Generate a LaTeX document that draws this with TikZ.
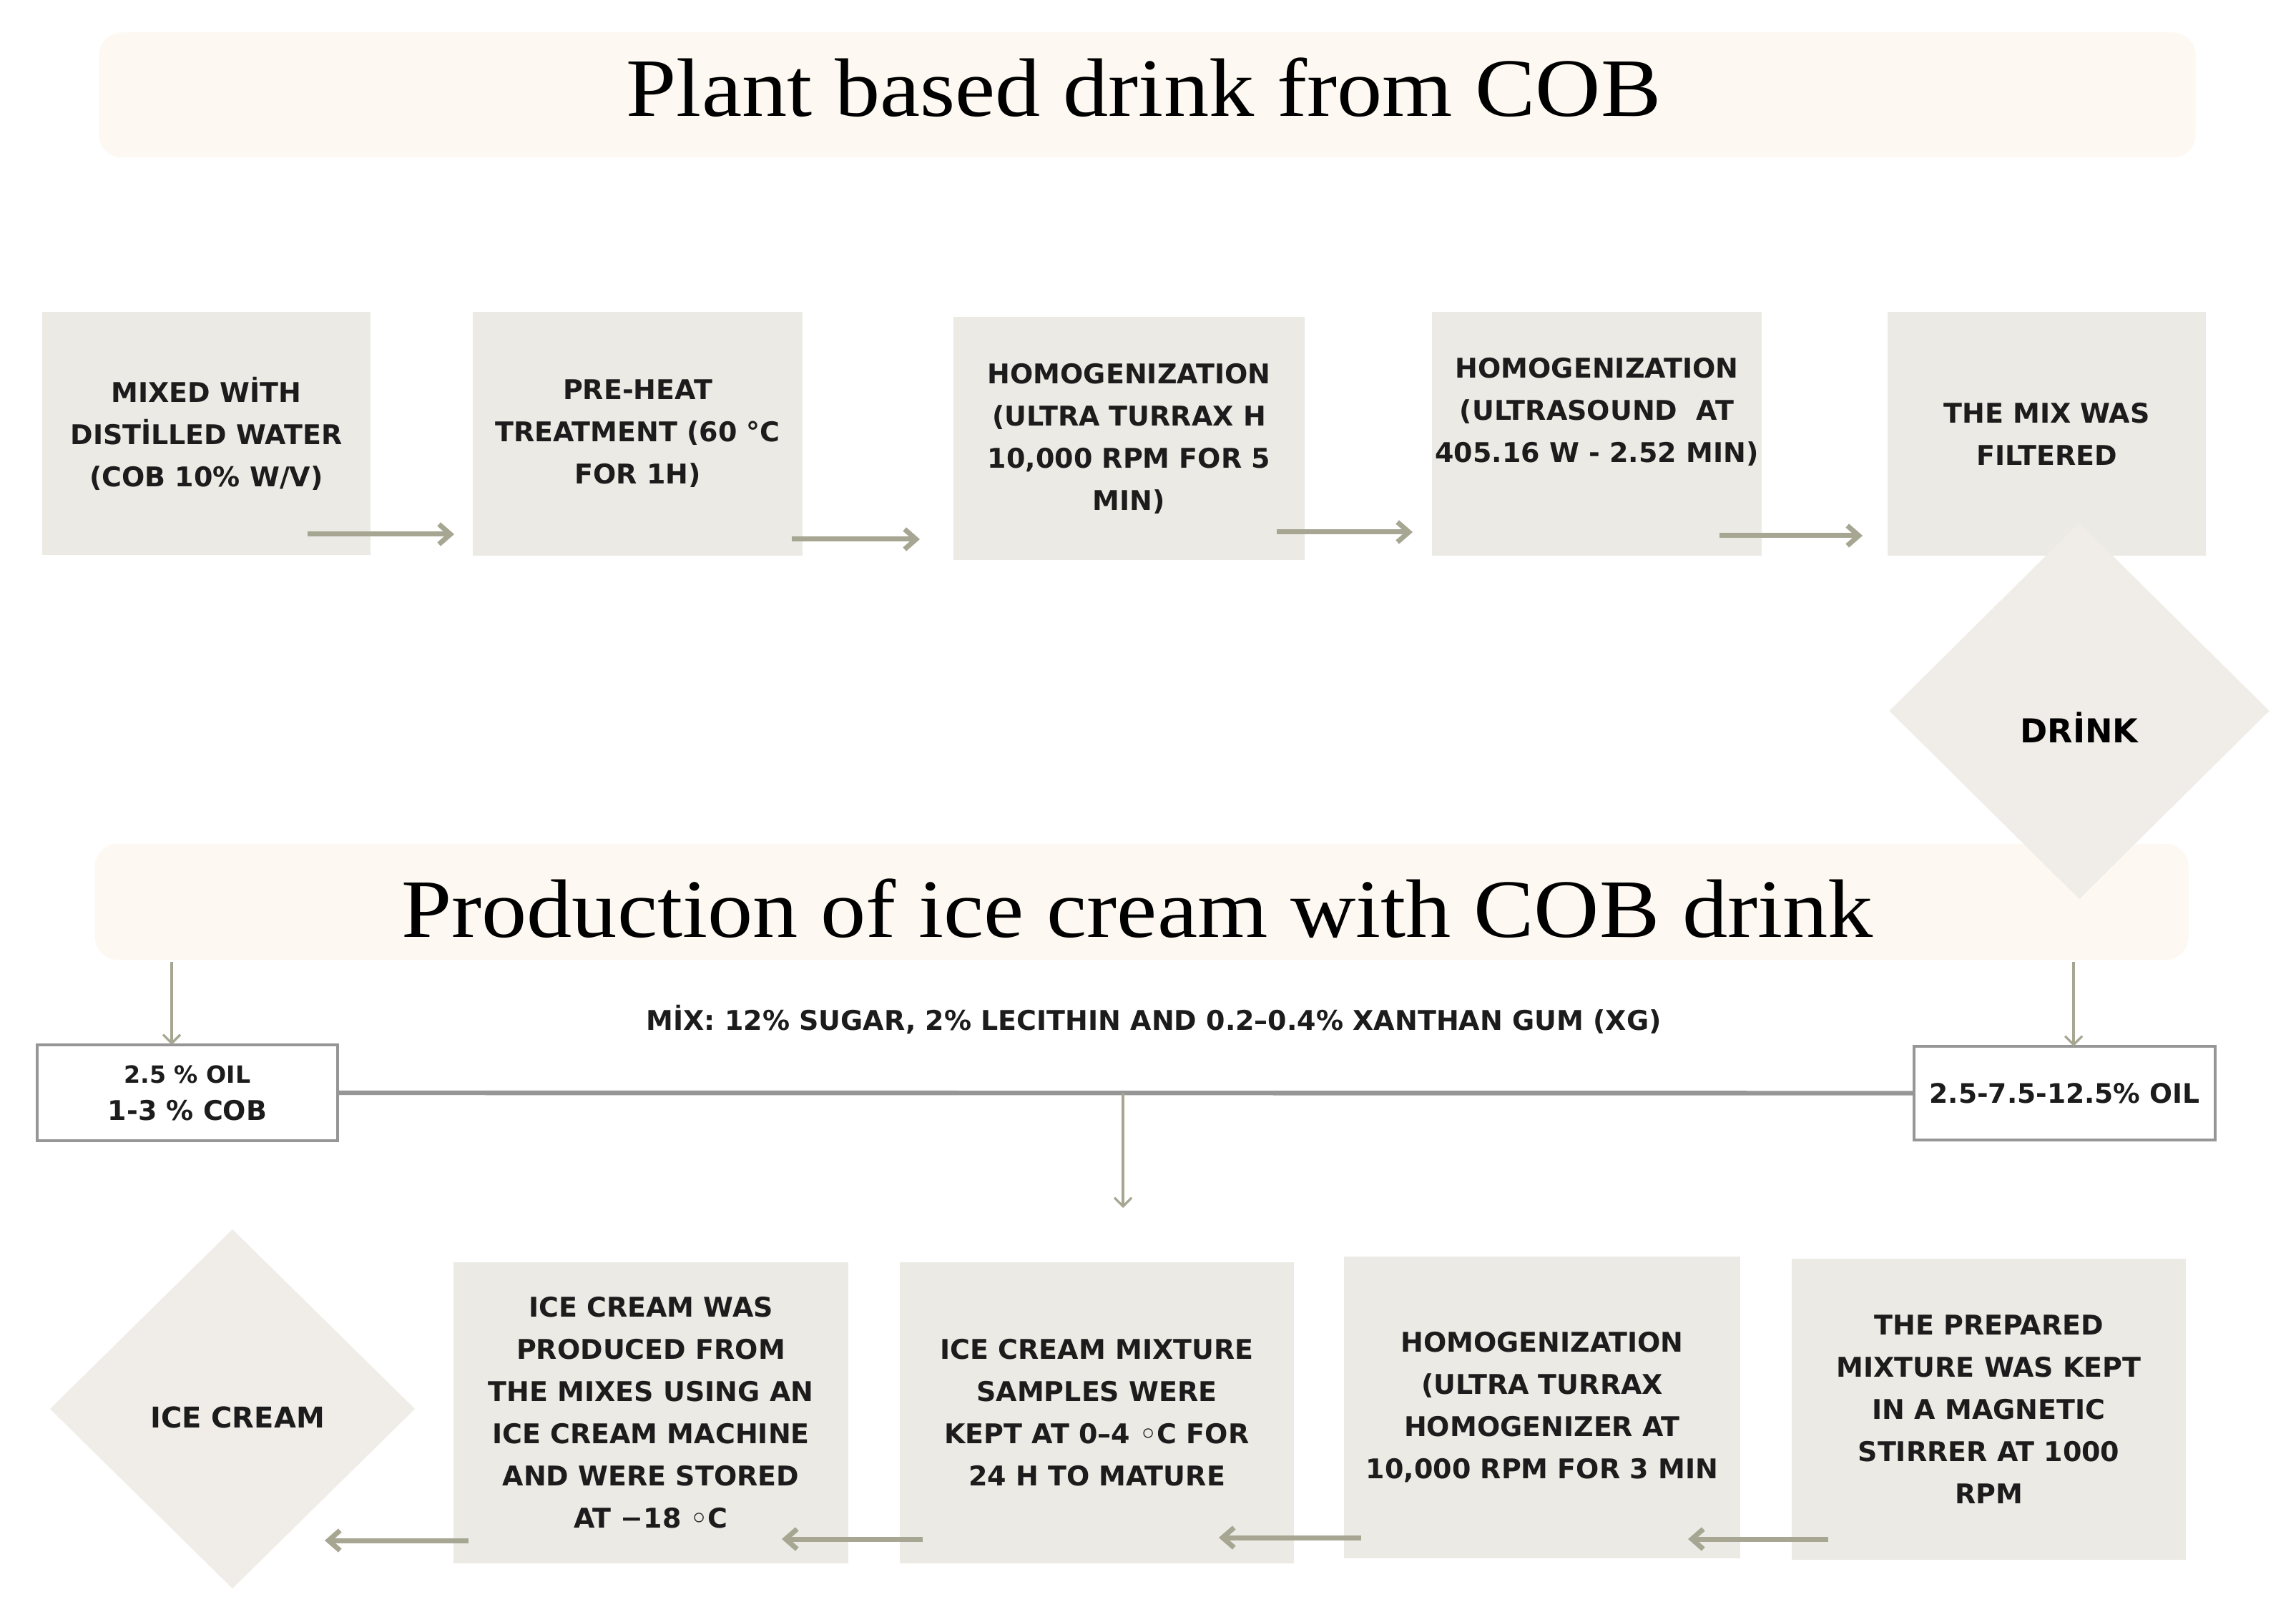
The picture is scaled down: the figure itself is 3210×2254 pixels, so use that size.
\documentclass[tikz,border=0pt]{standalone}
\usepackage{fontspec}
\usetikzlibrary{arrows.meta,shapes.geometric}
\newfontfamily\bxfont{DejaVu Sans}
\newfontfamily\ttlfont[FakeStretch=1.09]{Liberation Serif}
\definecolor{boxfill}{RGB}{236,234,228}
\definecolor{diafill}{RGB}{240,236,231}
\definecolor{banfill}{RGB}{253,248,241}
\definecolor{arrcol}{RGB}{166,166,146}
\definecolor{linecol}{RGB}{150,150,150}
\definecolor{txtcol}{RGB}{28,28,28}
\tikzset{
  sz/.style 2 args={minimum width=#1*0.25pt, minimum height=#2*0.25pt},
  stepbox/.style={fill=boxfill, inner sep=0pt, outer sep=0pt, align=center,
    text=txtcol, font=\bxfont\bfseries\fontsize{9.5pt}{14.75pt}\selectfont},
  boxtext/.style={align=center, inner sep=0pt, text=txtcol,
    font=\bxfont\bfseries\fontsize{9.5pt}{14.75pt}\selectfont},
  banner/.style={fill=banfill, rounded corners=8pt, inner sep=0pt, outer sep=0pt},
  ttl/.style={anchor=base, inner sep=0pt, font=\ttlfont\fontsize{29pt}{34pt}\selectfont},
  enddia/.style={diamond, fill=diafill, inner sep=0pt, outer sep=0pt},
  inbox/.style={draw=linecol, line width=1.2pt, fill=white, inner sep=0pt, outer sep=0pt,
    align=center, text=txtcol, font=\bxfont\bfseries\fontsize{9.5pt}{12pt}\selectfont},
  arrthick/.style={draw=arrcol, line width=1.75pt, -{Straight Barb[length=4pt,width=7pt]}},
  arrthin/.style={draw=arrcol, line width=0.8pt, -{Straight Barb[length=3pt,width=6pt]}},
  hline/.style={draw=linecol, line width=1.6pt},
}
\begin{document}
\begin{tikzpicture}[x=0.25pt,y=-0.25pt]
\useasboundingbox (0,0) rectangle (3210,2254);
\fill[white] (0,0) rectangle (3210,2254);

% banners and titles
\node[banner, sz={2931}{175}] (ban1) at (1604,133) {};
\node[ttl] (ttl1) at (1599,163) {Plant based drink from COB};
\node[banner, sz={2927}{162}] (ban2) at (1596,1261) {};
\node[ttl] (ttl2) at (1590,1310) {Production of ice cream with COB drink};

% top row
\node[stepbox, sz={459}{340}] (b1) at (288.5,606) {MIXED WİTH\\DISTİLLED WATER\\(COB 10\% W/V)};
\node[stepbox, sz={461}{341}] (b2) at (891.5,606.5) {PRE-HEAT\\TREATMENT (60 °C\\FOR 1H)};
\node[stepbox, sz={491}{340}] (b3) at (1578.5,613) {HOMOGENIZATION\\(ULTRA TURRAX H\\10,000 RPM FOR 5\\MIN)};
\node[stepbox, sz={461}{341}] (b4) at (2232.5,606.5) {};
\node[boxtext] (b4t) at (2232.5,576) {HOMOGENIZATION\\(ULTRASOUND\ \ AT\\405.16 W - 2.52 MIN)};
\node[stepbox, sz={445}{341}] (b5) at (2861.5,606.5) {THE MIX WAS\\FILTERED};

% drink diamond
\node[enddia, sz={531}{526}] (drink) at (2907,994) {};
\node[anchor=base, inner sep=0pt, text=black, font=\bxfont\bfseries\fontsize{11.5pt}{13pt}\selectfont] (drinkt) at (2907,1039) {DRİNK};

% top arrows
\coordinate (a1s) at (430,747);  \coordinate (a1e) at (635,747);
\coordinate (a2s) at (1107,754); \coordinate (a2e) at (1286,754);
\coordinate (a3s) at (1785,744); \coordinate (a3e) at (1975,744);
\coordinate (a4s) at (2404,749); \coordinate (a4e) at (2604,749);
\draw[arrthick] (a1s) -- (a1e);
\draw[arrthick] (a2s) -- (a2e);
\draw[arrthick] (a3s) -- (a3e);
\draw[arrthick] (a4s) -- (a4e);

% middle section
\node[inbox, sz={420}{134}] (lbox) at (262,1528) {{\fontsize{8.3pt}{9pt}\selectfont 2.5 \% OIL}\\[1pt]1-3 \% COB};
\node[inbox, sz={421}{131}] (rbox) at (2886.5,1528.5) {\fontsize{9.4pt}{12pt}\selectfont 2.5-7.5-12.5\% OIL};
\node[anchor=base, inner sep=0pt, text=txtcol, font=\bxfont\bfseries\fontsize{9.5pt}{12pt}\selectfont] (mix) at (1613,1440) {MİX: 12\% SUGAR, 2\% LECITHIN AND 0.2–0.4\% XANTHAN GUM (XG)};
\coordinate (dL) at (240,1345);
\coordinate (dR) at (2899,1345);
\draw[arrthin] (dL) -- (dL |- lbox.north);
\draw[arrthin] (dR) -- (dR |- rbox.north);
\draw[hline] (lbox.east) -- (rbox.west);
\coordinate (br) at (1570,1528);
\coordinate (brend) at (1570,1689);
\draw[arrthin] (br) -- (brend);

% bottom row
\node[enddia, sz={510}{502}] (ice) at (325,1970) {};
\node[anchor=base, inner sep=0pt, text=txtcol, font=\bxfont\bfseries\fontsize{10pt}{12pt}\selectfont] (icet) at (332,1996) {ICE CREAM};
\node[stepbox, sz={552}{421}] (c1) at (910,1975.5) {ICE CREAM WAS\\PRODUCED FROM\\THE MIXES USING AN\\ICE CREAM MACHINE\\AND WERE STORED\\AT −18 ◦C};
\node[stepbox, sz={551}{421}] (c2) at (1533.5,1975.5) {ICE CREAM MIXTURE\\SAMPLES WERE\\KEPT AT 0–4 ◦C FOR\\24 H TO MATURE};
\node[stepbox, sz={554}{422}] (c3) at (2156,1968) {HOMOGENIZATION\\(ULTRA TURRAX\\HOMOGENIZER AT\\10,000 RPM FOR 3 MIN};
\node[stepbox, sz={551}{421}] (c4) at (2780.5,1970.5) {THE PREPARED\\MIXTURE WAS KEPT\\IN A MAGNETIC\\STIRRER AT 1000\\RPM};

\coordinate (e1s) at (655,2154);  \coordinate (e1e) at (454,2154);
\coordinate (e2s) at (1290,2152); \coordinate (e2e) at (1093,2152);
\coordinate (e3s) at (1903,2150); \coordinate (e3e) at (1704,2150);
\coordinate (e4s) at (2556,2152); \coordinate (e4e) at (2360,2152);
\draw[arrthick] (e1s) -- (e1e);
\draw[arrthick] (e2s) -- (e2e);
\draw[arrthick] (e3s) -- (e3e);
\draw[arrthick] (e4s) -- (e4e);
\end{tikzpicture}
\end{document}
